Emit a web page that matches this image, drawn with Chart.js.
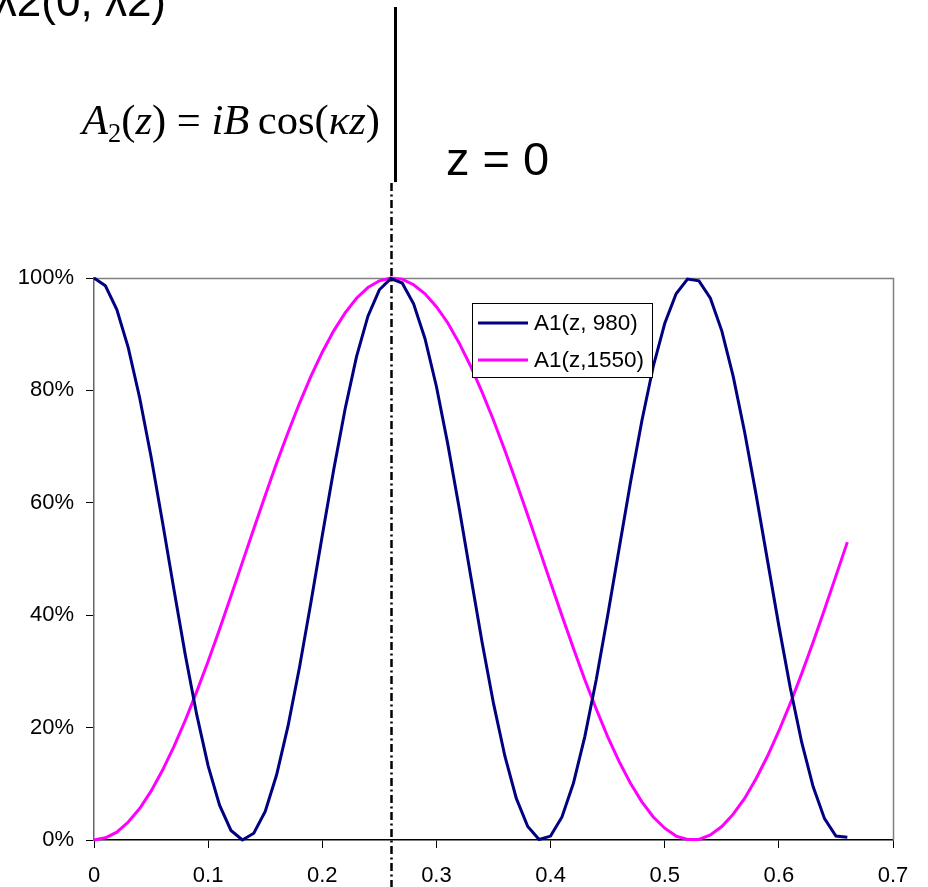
<!DOCTYPE html>
<html>
<head>
<meta charset="utf-8">
<script src="https://cdn.jsdelivr.net/npm/chart.js@4.4.1/dist/chart.umd.min.js"></script>
<style>
  html, body { margin: 0; padding: 0; background: #fff; }
  #wrap { width: 928px; height: 887px; }
</style>
</head>
<body>
<div id="wrap"><canvas id="couplerChart" width="928" height="887"></canvas></div>
<script>
// z positions (step 0.01)
const zValues = [0, 0.01, 0.02, 0.03, 0.04, 0.05, 0.06, 0.07, 0.08, 0.09,
  0.10, 0.11, 0.12, 0.13, 0.14, 0.15, 0.16, 0.17, 0.18, 0.19,
  0.20, 0.21, 0.22, 0.23, 0.24, 0.25, 0.26, 0.27, 0.28, 0.29,
  0.30, 0.31, 0.32, 0.33, 0.34, 0.35, 0.36, 0.37, 0.38, 0.39,
  0.40, 0.41, 0.42, 0.43, 0.44, 0.45, 0.46, 0.47, 0.48, 0.49,
  0.50, 0.51, 0.52, 0.53, 0.54, 0.55, 0.56, 0.57, 0.58, 0.59,
  0.60, 0.61, 0.62, 0.63, 0.64, 0.65, 0.66];

// A1(z, 980) in %
const a1_980 = [100, 98.6, 94.4, 87.6, 78.7, 68.2, 56.6, 44.6, 32.9, 22.3,
  13.2, 6.2, 1.7, 0.0, 1.2, 5.1, 11.6, 20.3, 30.7, 42.2,
  54.2, 65.9, 76.7, 86.0, 93.2, 97.9, 99.9, 99.1, 95.4, 89.2,
  80.7, 70.4, 59.0, 47.0, 35.2, 24.3, 14.9, 7.4, 2.4, 0.1,
  0.7, 4.1, 10.1, 18.4, 28.5, 39.9, 51.8, 63.6, 74.6, 84.3,
  91.9, 97.2, 99.8, 99.5, 96.4, 90.6, 82.5, 72.6, 61.5, 49.8,
  38.1, 27.1, 17.4, 9.5, 3.8, 0.7, 0.5];

// A1(z, 1550) in %
const a1_1550 = [0, 0.4, 1.4, 3.2, 5.6, 8.7, 12.4, 16.6, 21.3, 26.4,
  31.8, 37.5, 43.4, 49.4, 55.4, 61.3, 67.1, 72.5, 77.7, 82.5,
  86.8, 90.6, 93.8, 96.4, 98.3, 99.5, 100, 99.8, 98.8, 97.2,
  94.9, 92.0, 88.4, 84.3, 79.7, 74.7, 69.3, 63.6, 57.8, 51.8,
  45.8, 39.9, 34.1, 28.5, 23.3, 18.4, 14.0, 10.1, 6.8, 4.1,
  2.1, 0.7, 0.1, 0.1, 0.9, 2.4, 4.6, 7.4, 10.9, 14.9,
  19.4, 24.3, 29.6, 35.2, 41.0, 47.0, 53.0];

const seriesNames = ['A1(z, 980)', 'A1(z,1550)'];
const seriesColors = ['#000080', '#FF00FF'];
const xTicks = [0, 0.1, 0.2, 0.3, 0.4, 0.5, 0.6, 0.7];
const yTicks = [0, 20, 40, 60, 80, 100];
const zMarker = 0.26;

const FONT = '"Liberation Sans", Arial, sans-serif';
const SERIF = '"Liberation Serif", "Times New Roman", serif';

function toPoints(ys) {
  return zValues.map((z, i) => ({ x: z, y: ys[i] }));
}

// frame: grey top/right border of the plot area
const framePlugin = {
  id: 'frame',
  beforeDatasetsDraw(chart) {
    const { ctx, chartArea: a } = chart;
    ctx.save();
    ctx.strokeStyle = '#808080';
    ctx.lineWidth = 1.5;
    ctx.beginPath();
    ctx.moveTo(a.left, a.top + 0.5);
    ctx.lineTo(a.right + 0.5, a.top + 0.5);
    ctx.lineTo(a.right + 0.5, a.bottom);
    ctx.stroke();
    ctx.restore();
  }
};

// draws the formula with mixed italic / upright pieces, fitted to a width
function drawFormula(ctx, x0, x1, baseline) {
  const parts = [
    ['A', 'italic', 0, 1],
    ['2', '', 8, 0.62],
    ['(', '', 0, 1],
    ['z', 'italic', 0, 1],
    [')', '', 0, 1],
    [' = ', '', 0, 1],
    ['iB', 'italic', 0, 1],
    ['\u2009cos(', '', 0, 1],
    ['\u03BAz', 'italic', 0, 1],
    [')', '', 0, 1]
  ];
  let size = 34;
  const widthAt = (s) => parts.reduce((w, p) => {
    ctx.font = `${p[1]} ${s * p[3]}px ${SERIF}`;
    return w + ctx.measureText(p[0]).width;
  }, 0);
  size = size * (x1 - x0) / widthAt(size);
  let x = x0;
  ctx.fillStyle = '#000';
  ctx.textBaseline = 'alphabetic';
  ctx.textAlign = 'left';
  parts.forEach(p => {
    ctx.font = `${p[1]} ${size * p[3]}px ${SERIF}`;
    ctx.fillText(p[0], x, baseline + p[2]);
    x += ctx.measureText(p[0]).width;
  });
}

const overlayPlugin = {
  id: 'overlay',
  afterDraw(chart) {
    const { ctx } = chart;
    const xs = chart.scales.x;
    ctx.save();

    // headings above the plot
    ctx.fillStyle = '#000';
    ctx.font = `44px ${FONT}`;
    ctx.textAlign = 'right';
    ctx.textBaseline = 'alphabetic';
    ctx.fillText('\u03BB2(0, \u03BB2)', 166, 16);

    ctx.textAlign = 'left';
    ctx.font = `47px ${FONT}`;
    ctx.fillText('z = 0', 446, 175);

    drawFormula(ctx, 82, 380, 134);

    // solid separator
    ctx.strokeStyle = '#000';
    ctx.lineWidth = 3;
    ctx.beginPath();
    ctx.moveTo(395.5, 7);
    ctx.lineTo(395.5, 182);
    ctx.stroke();

    // dash-dot line at z = 0 mark
    const mx = Math.round(xs.getPixelForValue(zMarker)) + 0.5;
    ctx.lineWidth = 2.5;
    ctx.setLineDash([8, 3.5, 2, 3.5]);
    ctx.beginPath();
    ctx.moveTo(mx, 183);
    ctx.lineTo(mx, 887);
    ctx.stroke();
    ctx.setLineDash([]);

    // legend box
    const bx = 472.5, by = 303.5, bw = 180, bh = 74;
    ctx.fillStyle = '#fff';
    ctx.fillRect(bx, by, bw, bh);
    ctx.strokeStyle = '#000';
    ctx.lineWidth = 1;
    ctx.strokeRect(bx, by, bw, bh);
    ctx.font = `22.5px ${FONT}`;
    ctx.textBaseline = 'middle';
    seriesNames.forEach((name, i) => {
      const ly = 323 + i * 37;
      ctx.strokeStyle = seriesColors[i];
      ctx.lineWidth = 3;
      ctx.beginPath();
      ctx.moveTo(478, ly);
      ctx.lineTo(528, ly);
      ctx.stroke();
      ctx.fillStyle = '#000';
      ctx.fillText(name, 534, ly + 1);
    });

    ctx.restore();
  }
};

const ctx = document.getElementById('couplerChart').getContext('2d');
const chart = new Chart(ctx, {
  type: 'line',
  data: {
    datasets: [
      {
        label: seriesNames[0],
        data: toPoints(a1_980),
        borderColor: seriesColors[0],
        backgroundColor: seriesColors[0],
        borderWidth: 3,
        pointRadius: 0,
        tension: 0,
        fill: false,
        clip: 6
      },
      {
        label: seriesNames[1],
        data: toPoints(a1_1550),
        borderColor: seriesColors[1],
        backgroundColor: seriesColors[1],
        borderWidth: 3,
        pointRadius: 0,
        tension: 0,
        fill: false,
        clip: 6
      }
    ]
  },
  options: {
    responsive: false,
    animation: false,
    layout: { padding: { left: 0, top: 278, right: 35, bottom: 0 } },
    plugins: {
      legend: { display: false },
      tooltip: { enabled: false }
    },
    scales: {
      x: {
        type: 'linear',
        min: 0,
        max: 0.7,
        afterFit(scale) { scale.height = 47; },
        afterBuildTicks(scale) { scale.ticks = xTicks.map(v => ({ value: v })); },
        ticks: {
          color: '#000',
          font: { family: FONT, size: 22 },
          padding: 15,
          maxRotation: 0,
          callback: v => (v === 0 ? '0' : v.toFixed(1))
        },
        grid: { drawOnChartArea: false, drawTicks: true, tickLength: 8, color: '#000' },
        border: { color: '#000', width: 1.5 }
      },
      y: {
        min: 0,
        max: 100,
        afterFit(scale) { scale.width = 94; },
        afterBuildTicks(scale) { scale.ticks = yTicks.map(v => ({ value: v })); },
        ticks: {
          color: '#000',
          font: { family: FONT, size: 22 },
          padding: 12,
          callback: v => v + '%'
        },
        grid: { drawOnChartArea: false, drawTicks: true, tickLength: 8, color: '#000' },
        border: { color: '#666', width: 1.5 }
      }
    }
  },
  plugins: [framePlugin, overlayPlugin]
});
</script>
</body>
</html>
